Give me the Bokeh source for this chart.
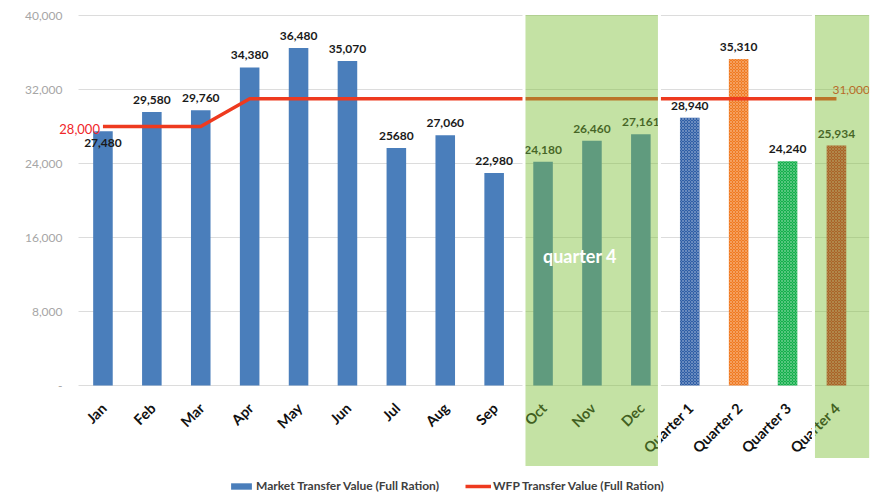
import numpy as np
from bokeh.plotting import figure
from bokeh.models import ColumnDataSource, Range1d, Legend, LegendItem
from bokeh.core.properties import value
from bokeh.embed import file_html
from bokeh.resources import INLINE

# ---------------- data ----------------
months = ["Jan", "Feb", "Mar", "Apr", "May", "Jun", "Jul", "Aug", "Sep", "Oct", "Nov", "Dec"]
month_values = [27480, 29580, 29760, 34380, 36480, 35070, 25680, 27060, 22980, 24180, 26460, 27161]
month_labels = ["27,480", "29,580", "29,760", "34,380", "36,480", "35,070", "25680", "27,060",
                "22,980", "24,180", "26,460", "27,161"]
quarters = ["Quarter 1", "Quarter 2", "Quarter 3", "Quarter 4"]
quarter_values = [28940, 35310, 24240, 25934]
quarter_labels = ["28,940", "35,310", "24,240", "25,934"]
wfp_values = [28000, 28000, 28000, 31000, 31000, 31000, 31000, 31000,
              31000, 31000, 31000, 31000, 31000, 31000, 31000, 31000]
wfp_labels = ["28,000", "31,000"]
y_ticks = [0, 8000, 16000, 24000, 32000, 40000]
y_tick_labels = ["-", "8,000", "16,000", "24,000", "32,000", "40,000"]
highlight_groups = [("Oct", "Dec"), ("Quarter 4", "Quarter 4")]
highlight_text = "quarter 4"
series_names = ["Market Transfer Value (Full Ration)", "WFP Transfer Value (Full Ration)"]

# ---------------- styles ----------------
BLUE = "#4a7ebb"
RED = "#ee3a1f"
quarter_colors = ["#2f5ea6", "#f07a22", "#14b04c", "#d01a1e"]
OVERLAY = "#7cbf35"
FONT = "Lato"

categories = months + quarters
n = len(categories)
pos = {c: i + 0.5 for i, c in enumerate(categories)}
CAT_PX = 48.9
W, H = 876, 498
LEFT = 78
x_start = -LEFT / CAT_PX
x_end = (W - LEFT) / CAT_PX
grid_end = n + 0.2
ypx = 40000 / 370.0           # data units per pixel
y_top = 40000 + 15 * ypx
y_bot = -(H - 385) * ypx

p = figure(width=W, height=H, output_backend="svg", toolbar_location=None,
           x_range=Range1d(x_start, x_end), y_range=Range1d(y_bot, y_top),
           x_axis_location=None, y_axis_location=None, min_border=0)
p.outline_line_color = None
p.background_fill_color = "white"
p.border_fill_color = "white"
p.grid.grid_line_color = None

# gridlines and y tick labels
p.segment(x0=[0] * len(y_ticks), x1=[grid_end] * len(y_ticks), y0=y_ticks, y1=y_ticks,
          line_color="#dcdcdc", line_width=1)
p.text(x=[0] * len(y_ticks), y=y_ticks, text=y_tick_labels, x_offset=-16,
       text_align="right", text_baseline="middle", text_font=value(FONT),
       text_font_size="12px", text_color="#a6a6a6")

# monthly bars
msrc = ColumnDataSource(dict(x=[pos[m] for m in months], top=month_values))
r_bars = p.vbar(x="x", top="top", width=0.4, source=msrc, fill_color=BLUE, line_color=None)

# quarterly bars (hatched)
qsrc = ColumnDataSource(dict(x=[pos[q] for q in quarters], top=quarter_values, color=quarter_colors))
p.vbar(x="x", top="top", width=0.4, source=qsrc, fill_color="color", line_color=None,
       hatch_pattern="diagonal_cross", hatch_color="white", hatch_alpha=0.4,
       hatch_scale=3, hatch_weight=0.7)

# WFP line
lsrc = ColumnDataSource(dict(x=[pos[c] for c in categories], y=wfp_values))
r_line = p.line(x="x", y="y", source=lsrc, line_color=RED, line_width=3.5)

# bar value labels
all_vals = month_values + quarter_values
all_labels = month_labels + quarter_labels
label_y = [v - 12 * ypx if i == 0 else v + 12 * ypx for i, v in enumerate(all_vals)]
bsrc = ColumnDataSource(dict(x=[pos[c] for c in categories], y=label_y, t=all_labels))
p.text(x="x", y="y", text="t", source=bsrc, text_align="center", text_baseline="middle",
       text_font=value(FONT), text_font_style="bold", text_font_size="12px", text_color="#1a1a1a")

# WFP line end labels
p.text(x=[pos[categories[0]]], y=[wfp_values[0] - 2 * ypx], text=[wfp_labels[0]], x_offset=-3,
       text_align="right", text_baseline="middle", text_font=value(FONT),
       text_font_size="13px", text_color="#f0262a")
p.text(x=[pos[categories[-1]]], y=[wfp_values[-1] + 9 * ypx], text=[wfp_labels[1]], x_offset=-4,
       text_align="left", text_baseline="middle", text_font=value(FONT),
       text_font_size="12px", text_color="#e8231a")

# category labels (rotated)
xsrc = ColumnDataSource(dict(x=[pos[c] for c in categories], y=[-20 * ypx] * n, t=categories))
p.text(x="x", y="y", text="t", source=xsrc, x_offset=1, angle=np.pi / 4,
       text_align="right", text_baseline="middle", text_font=value(FONT),
       text_font_style="bold", text_font_size="14.5px", text_color="#111111")

# highlighted regions (translucent overlay)
lefts, rights, bottoms = [], [], []
for (a, b), bot_px in zip(highlight_groups, [82, 74]):
    single = a == b
    lefts.append(pos[a] - (0.47 if single else 0.39))
    rights.append(grid_end if single else pos[b] + 0.38)
    bottoms.append(-bot_px * ypx)
p.quad(left=lefts, right=rights, bottom=bottoms, top=[40000 + 2 * ypx] * 2,
       fill_color=OVERLAY, fill_alpha=0.45, line_color="white", line_width=3)

# "quarter 4" annotation text
g = highlight_groups[0]
mid = (pos[g[0]] + pos[g[1]]) / 2
p.text(x=[mid], y=[130 * ypx], text=[highlight_text], x_offset=-12, text_align="center",
       text_baseline="middle", text_font=value(FONT), text_font_style="bold",
       text_font_size="18px", text_color="white")

# legend
legend = Legend(items=[LegendItem(label=series_names[0], renderers=[r_bars]),
                       LegendItem(label=series_names[1], renderers=[r_line])],
                orientation="horizontal", location=(228, 5), padding=0, margin=0,
                spacing=26, label_standoff=2, glyph_width=26, glyph_height=8,
                label_height=12, label_text_font=FONT, label_text_font_size="12px",
                label_text_font_style="bold", label_text_color="#404040",
                background_fill_alpha=0, border_line_color=None)
p.add_layout(legend)

open("out.html", "w").write(file_html(p, INLINE))
